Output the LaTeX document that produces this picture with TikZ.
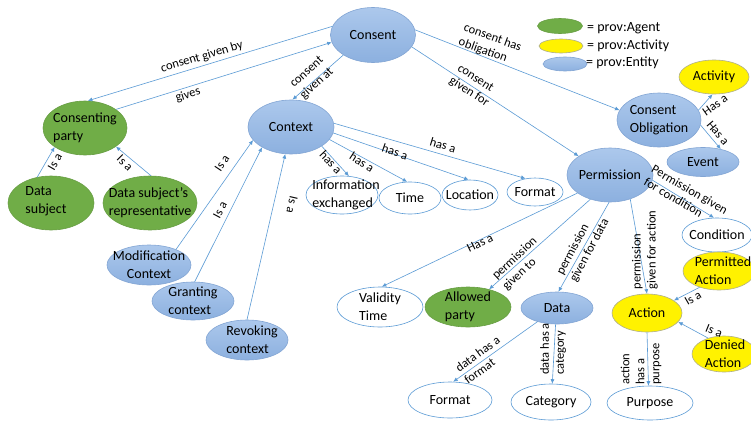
\documentclass[tikz,border=0pt]{standalone}
\usepackage{fontspec}
\setmainfont{Carlito}
\usetikzlibrary{shapes.geometric,arrows.meta}
\definecolor{lnk}{RGB}{91,155,213}
\definecolor{enttop}{RGB}{172,200,236}
\definecolor{entbot}{RGB}{140,176,223}
\definecolor{entline}{RGB}{130,165,212}
\definecolor{agfill}{RGB}{112,173,71}
\definecolor{agline}{RGB}{104,158,68}
\definecolor{acline}{RGB}{175,175,140}
\newcommand{\bubble}[7][]{%
  \node[#2,minimum width=#5pt,minimum height=#6pt] (#3) at #4 {};
  \node[ntext,#1] (#3-t) at (#3.center) {#7};}
\begin{document}
\begin{tikzpicture}[x=1pt,y=-1pt,
  base/.style={ellipse,inner sep=0pt,line width=0.6pt},
  entity/.style={base,draw=entline,top color=enttop,bottom color=entbot},
  agent/.style={base,draw=agline,fill=agfill},
  activity/.style={base,draw=acline,fill=yellow},
  plain/.style={base,draw=lnk,fill=white},
  ntext/.style={font=\fontsize{14}{18}\selectfont,inner sep=0pt,align=left},
  elab/.style={font=\fontsize{12.5}{15}\selectfont,inner sep=0pt,align=left},
  ltext/.style={font=\fontsize{14}{16}\selectfont,inner sep=0pt,anchor=west},
  lnkarrow/.style={draw=lnk,line width=0.6pt,-{Latex[length=4.5pt,width=4pt]}},
]
\useasboundingbox (0,0) rectangle (751,423);
\clip (0,0) rectangle (751,423);
\fill[white] (0,0) rectangle (751,423);

% nodes
\bubble{entity}{consent}{(373,35)}{85}{55}{Consent}
\bubble{agent}{party}{(85,128)}{84}{54}{Consenting\\party}
\bubble[xshift=-5pt,yshift=2pt]{agent}{dsub}{(51,203)}{86}{54}{Data\\subject}
\bubble{agent}{rep}{(150,203)}{94}{54}{Data subject's\\representative}
\bubble{entity}{context}{(291,127)}{86}{54}{Context}
\bubble[align=center]{entity}{modc}{(149,265)}{84}{40}{Modification\\Context}
\bubble{entity}{grant}{(193,301)}{82}{38}{Granting\\context}
\bubble[xshift=5pt]{entity}{revoke}{(247,340)}{82}{40}{Revoking\\context}
\bubble[xshift=4pt]{plain}{info}{(342,195)}{72}{38}{Information\\exchanged}
\bubble{plain}{time}{(410,198)}{62}{32}{Time}
\bubble{plain}{loc}{(470,195)}{56}{30}{Location}
\bubble{plain}{fmta}{(535,192)}{56}{28}{Format}
\bubble{entity}{perm}{(610,175)}{86}{54}{Permission}
\bubble{entity}{oblig}{(659,120)}{84}{54}{Consent\\Obligation}
\bubble{activity}{activ}{(714,77)}{70}{34}{Activity}
\bubble{entity}{event}{(703,162)}{72}{29}{Event}
\bubble{plain}{cond}{(717,235)}{70}{34}{Condition}
\bubble[xshift=4pt]{activity}{pact}{(719,271)}{72}{38}{Permitted\\Action}
\bubble{activity}{action}{(647,313)}{70}{38}{Action}
\bubble[xshift=1pt]{activity}{dact}{(724,354)}{64}{36}{Denied\\Action}
\bubble{plain}{purpose}{(650,403)}{86}{34}{Purpose}
\bubble{plain}{categ}{(551,402)}{80}{36}{Category}
\bubble{entity}{data}{(557,308)}{72}{32}{Data}
\bubble{plain}{fmtb}{(450,400)}{84}{36}{Format}
\bubble{plain}{valid}{(380,307)}{86}{40}{Validity\\Time}
\bubble{agent}{allowed}{(468,307)}{86}{40}{Allowed\\party}

% legend
\node[agent,minimum width=45pt,minimum height=15pt] (lg1) at (560,26) {};
\node[activity,minimum width=44pt,minimum height=14pt] (lg2) at (561,46) {};
\node[entity,minimum width=44pt,minimum height=14pt] (lg3) at (565,64) {};
\node[ltext] (lg1t) at (587,28) {= prov:Agent};
\node[ltext] (lg2t) at (587,46) {= prov:Activity};
\node[ltext] (lg3t) at (586,63) {= prov:Entity};

% connectors
\draw[lnkarrow] (consent.168) -- (party.84);
\draw[lnkarrow] (party.31) -- (consent.190);
\draw[lnkarrow] (consent.214) -- (context.87);
\draw[lnkarrow] (consent.7) -- (oblig.166);
\draw[lnkarrow] (consent.-17) -- (perm.149);
\draw[lnkarrow] (dsub.118) -- (party.212);
\draw[lnkarrow] (rep.88) -- (party.-31);
\draw[lnkarrow] (modc.30) -- (context.199);
\draw[lnkarrow] (grant.85) -- (context.215);
\draw[lnkarrow] (revoke.90) -- (context.258);
\draw[lnkarrow] (context.-32) -- (info.70);
\draw[lnkarrow] (context.-18) -- (time.100);
\draw[lnkarrow] (context.-8) -- (loc.95);
\draw[lnkarrow] (context.5) -- (fmta.125);
\draw[lnkarrow] (oblig.14) -- (activ.265);
\draw[lnkarrow] (oblig.-7) -- (event.36);
\draw[lnkarrow] (perm.209) -- (valid.85);
\draw[lnkarrow] (perm.231) -- (allowed.40);
\draw[lnkarrow] (perm.268) -- (data.85);
\draw[lnkarrow] (perm.-50) -- (action.90);
\draw[lnkarrow] (perm.-7) -- (cond.100);
\draw[lnkarrow] (pact.220) -- (action.25);
\draw[lnkarrow] (dact.135) -- (action.-16);
\draw[lnkarrow] (action.270) -- (purpose.95);
\draw[lnkarrow] (data.215) -- (fmtb.80);
\draw[lnkarrow] (data.265) -- (categ.86);

% connector labels
\node[elab,rotate=16.5] (l1) at (202,57) {consent given by};
\node[elab,rotate=17] (l2) at (188,95) {gives};
\node[elab,rotate=42] (l3) at (312,78) {consent\\given at};
\node[elab,rotate=-20] (l4) at (490,45) {consent has\\obligation};
\node[elab,rotate=-33] (l5) at (473,86) {consent\\given for};
\node[elab,rotate=60] (l6) at (55,162) {Is a};
\node[elab,rotate=-45] (l7) at (125,163) {Is a};
\node[elab,rotate=56] (l8) at (222,163) {Is a};
\node[elab,rotate=62] (l9) at (220,210) {Is a};
\node[elab,rotate=-103] (l10) at (292,205) {Is a};
\node[elab,rotate=-47] (l11) at (331,162) {has a};
\node[elab,rotate=-33] (l12) at (362,162) {has a};
\node[elab,rotate=-19] (l13) at (395,152) {has a};
\node[elab,rotate=-17] (l14) at (443,145) {has a};
\node[elab,rotate=26] (l15) at (480,243) {Has a};
\node[elab,rotate=43] (l16) at (520,264) {permission\\given to};
\node[elab,rotate=62] (l17) at (583,247) {permission\\given for data};
\node[elab,rotate=90] (l18) at (645,250) {permission\\given for action};
\node[elab,rotate=-30] (l19) at (686,196) {Permission given\\for condition};
\node[elab,rotate=35] (l20) at (715,105) {Has a};
\node[elab,rotate=-50] (l21) at (718,133) {Has a};
\node[elab,rotate=30] (l22) at (693,298) {Is a};
\node[elab,rotate=-22] (l23) at (714,331) {Is a};
\node[elab,rotate=90] (l24) at (641,364) {action\\has a\\purpose};
\node[elab,rotate=90] (l25) at (553,349) {data has a\\category};
\node[elab,rotate=36] (l26) at (482,360) {data has a\\format};
\end{tikzpicture}
\end{document}
